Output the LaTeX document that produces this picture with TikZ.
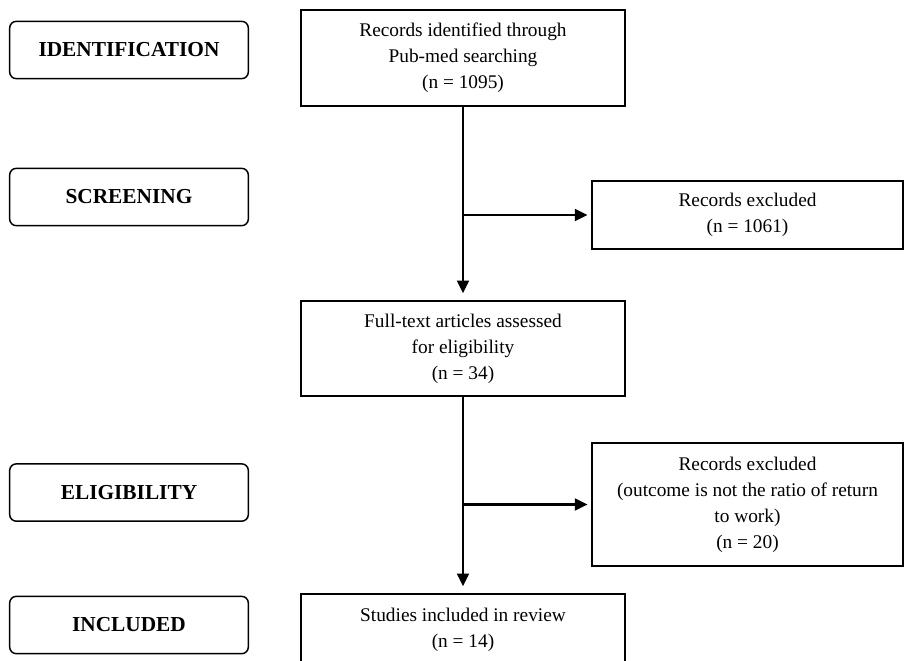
\documentclass[tikz,border=0pt]{standalone}
\usepackage{fontspec}
\setmainfont{Liberation Serif}
\usetikzlibrary{arrows.meta}

\tikzset{
    stage node/.style={draw, rounded corners=5pt, line width=1.1pt, minimum width=179pt, minimum height=43pt, font=\fontsize{16}{19}\selectfont\bfseries},
    flow node/.style={draw, line width=1.1pt, align=center, inner sep=0pt, minimum width=243pt, font=\fontsize{14.5}{19.5}\selectfont},
    side node/.style={flow node, minimum width=233pt},
    link/.style={line width=1.6pt, -{Triangle[length=9.5pt,width=9pt]}}
    }

\begin{document}
\begin{tikzpicture}[x=0.75pt, y=-0.75pt]
                \useasboundingbox (0,0) rectangle (905,660);
                \clip (0,0) rectangle (905,660);
                \node(ident)[stage node] at (129,50) {IDENTIFICATION};
                \node(screen)[stage node] at (129,197) {SCREENING};
                \node(elig)[stage node] at (129,492.5) {ELIGIBILITY};
                \node(incl)[stage node] at (129,625) {INCLUDED};
                \node(found)[flow node, minimum height=72pt] at (463,58)
                    {Records identified through\\Pub-med searching\\(n = 1095)};
                \node(full)[flow node, minimum height=71.25pt] at (463,348.5)
                    {Full-text articles assessed\\for eligibility\\(n = 34)};
                \node(review)[flow node, minimum height=54pt] at (463,630)
                    {Studies included in review\\(n = 14)};
                \node(excl1)[side node, minimum height=51pt] at (747.5,215)
                    {Records excluded\\(n = 1061)};
                \node(excl2)[side node, minimum height=92.25pt] at (747.5,504.5)
                    {Records excluded\\(outcome is not the ratio of return\\to work)\\(n = 20)};
                \draw[link, shorten >=5.25pt] (found.south) -- (full.north);
                \draw[link, shorten >=5.25pt] (full.south) -- (review.north);
                \draw[link, shorten >=3pt] (found.south |- excl1.west) -- (excl1.west);
                \draw[link, shorten >=3pt] (full.south |- excl2.west) -- (excl2.west);
            \end{tikzpicture}
\end{document}
